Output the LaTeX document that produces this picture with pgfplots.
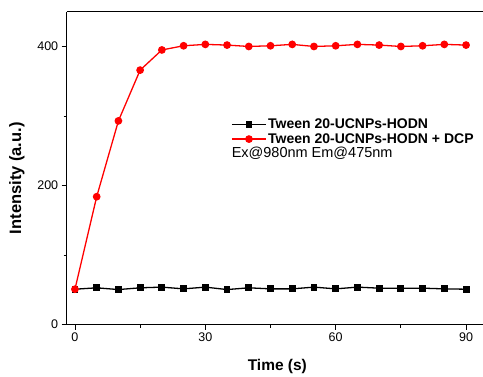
\documentclass[border=0pt]{standalone}
\usepackage{fontspec}
\setmainfont{Liberation Sans}
\usepackage{pgfplots}
\pgfplotsset{compat=1.18}
\begin{document}
\begin{tikzpicture}
\begin{axis}[
  name=ax,
  scale only axis,
  width=416.3bp, height=313bp,
  xmin=-1.9, xmax=93.9,
  ymin=0, ymax=450,
  axis x line*=box,
  axis y line*=left,
  xtick pos=bottom,
  ytick pos=left,
  tick align=outside,
  xtick={0,30,60,90},
  minor xtick={15,45,75},
  ytick={0,200,400},
  minor ytick={100,300},
  major tick length=5bp,
  minor tick length=3bp,
  every tick/.style={black, line width=0.8pt},
  axis line style={line width=0.8pt},
  /pgf/number format/assume math mode=true,
  tick label style={font=\fontsize{12.5bp}{14bp}\selectfont},
  xlabel={\textbf{Time (s)}},
  ylabel={\textbf{Intensity (a.u.)}},
  xlabel style={font=\fontsize{15.5bp}{18bp}\selectfont, at={(axis description cs:0.506,-0.133)}, anchor=center},
  ylabel style={font=\fontsize{16.5bp}{18bp}\selectfont, at={(axis description cs:-0.12,0.468)}, anchor=center},
  clip=false,
  legend style={draw=none, fill=none, at={(rel axis cs:0.395,0.662)}, anchor=north west,
    font=\fontsize{14bp}{16bp}\selectfont\bfseries, row sep=0bp, inner sep=0bp,
    nodes={inner sep=1.5bp}},
  legend cell align=left,
  legend image code/.code={\draw[mark repeat=2,mark phase=2] plot coordinates {(0bp,0bp) (17bp,0bp) (34bp,0bp)};},
]
\addplot[black, line width=1.3pt, mark=square*, mark size=2.8bp] coordinates {
(0,51) (5,53) (10,50.5) (15,53) (20,54) (25,51.5) (30,54) (35,50.5) (40,53) (45,51.5)
(50,51.5) (55,54) (60,51.5) (65,54) (70,52.5) (75,52.5) (80,52.5) (85,51.5) (90,51)};
\addlegendentry{Tween 20-UCNPs-HODN}
\addplot[red, line width=1.3pt, mark=*, mark size=3.2bp] coordinates {
(0,51) (5,184) (10,293) (15,366) (20,395) (25,401) (30,403) (35,402) (40,400) (45,401)
(50,403) (55,400) (60,401) (65,403) (70,402) (75,400) (80,401) (85,403) (90,402)};
\addlegendentry{Tween 20-UCNPs-HODN + DCP}
\node[anchor=west, inner sep=0pt, font=\fontsize{14.5bp}{16bp}\selectfont] at (rel axis cs:0.396,0.548) {Ex@980nm Em@475nm};
\coordinate (bl) at (rel axis cs:0,0);
\coordinate (tr) at (rel axis cs:1,1);
\end{axis}
\pgfresetboundingbox
\path (bl) ++(-66.7bp,-51.4bp) coordinate (BL);
\path (tr) ++(0bp,11.7bp) coordinate (TR);
\path[use as bounding box] (BL) rectangle (TR);
\end{tikzpicture}
\end{document}
